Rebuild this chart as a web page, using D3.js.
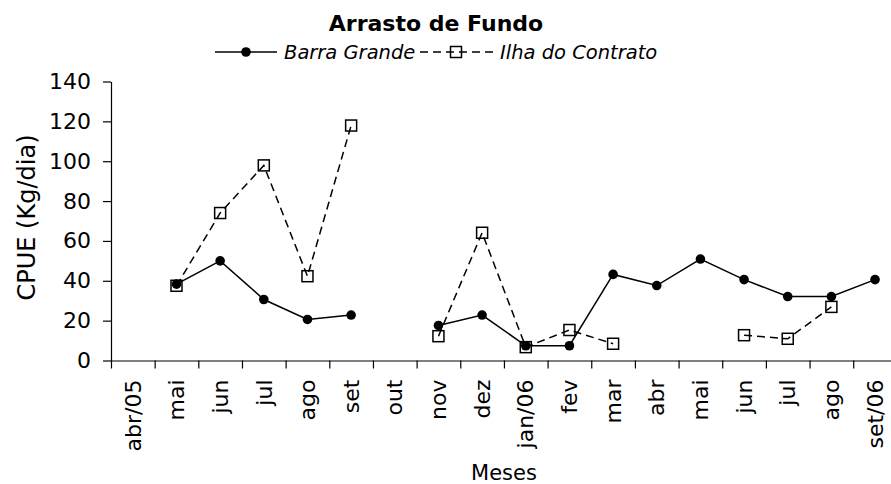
<!DOCTYPE html>
<html>
<head>
<meta charset="utf-8">
<script src="https://cdn.jsdelivr.net/npm/d3@7"></script>
<style>
  html, body { margin: 0; padding: 0; background: #fff; }
  svg { display: block; font-family: "DejaVu Sans", Verdana, sans-serif; }
</style>
</head>
<body>
<svg id="chart" width="891" height="484"></svg>
<script>
// Monthly CPUE for bottom trawl, two landing sites (null = no sampling)
const months = ["abr/05", "mai", "jun", "jul", "ago", "set", "out", "nov", "dez",
                "jan/06", "fev", "mar", "abr", "mai ", "jun ", "jul ", "ago ", "set/06"];
const barraGrande = [null, 38.3, 50.0, 30.6, 20.6, 22.8, null, 17.6, 22.8,
                     7.4, 7.4, 43.2, 37.6, 50.9, 40.6, 32.1, 32.1, 40.6];
const ilhaContrato = [null, 37.5, 74.0, 97.9, 42.3, 117.9, null, 12.2, 64.1,
                      6.7, 15.3, 8.4, null, null, 12.7, 10.9, 26.9, null];
const yTicks = [0, 20, 40, 60, 80, 100, 120, 140];

const svg = d3.select("#chart");
const plotLeft = 111, plotTop = 81.5, plotBottom = 360.5, band = 43.66;
const plotRight = plotLeft + band * months.length;

const x = d3.scaleBand().domain(months).range([plotLeft, plotRight]).padding(0);
const xEdge = d3.scaleLinear().domain([0, months.length]).range([plotLeft, plotRight]);
const y = d3.scaleLinear().domain([0, 140]).range([plotBottom, plotTop]);

// Y axis
const yAxis = svg.append("g")
  .attr("transform", `translate(${plotLeft},0)`)
  .call(d3.axisLeft(y).tickValues(yTicks).tickSize(8).tickPadding(12).tickSizeOuter(0));
yAxis.selectAll("text").attr("font-size", 22).attr("fill", "#000")
  .attr("font-family", "DejaVu Sans, Verdana, sans-serif");

// X axis: ticks on category boundaries
svg.append("g")
  .attr("transform", `translate(0,${plotBottom})`)
  .call(d3.axisBottom(xEdge).tickValues(d3.range(0, months.length + 1))
    .tickFormat("").tickSize(8).tickSizeOuter(0));

// X axis labels at category centres, rotated
const xLab = svg.append("g")
  .attr("transform", `translate(0,${plotBottom})`)
  .call(d3.axisBottom(x).tickSize(0).tickFormat(d => d.trim()));
xLab.select(".domain").remove();
xLab.selectAll("text")
  .attr("font-size", 22).attr("fill", "#000")
  .attr("font-family", "DejaVu Sans, Verdana, sans-serif")
  .attr("transform", "rotate(-90)")
  .attr("text-anchor", "end")
  .attr("x", -19).attr("y", 0).attr("dy", "0.35em");

svg.selectAll(".domain, .tick line").attr("stroke", "#000").attr("stroke-width", 1.2);

// Axis titles
svg.append("text")
  .attr("x", (plotLeft + plotRight) / 2).attr("y", 480)
  .attr("text-anchor", "middle").attr("font-size", 21)
  .text("Meses");
svg.append("text")
  .attr("transform", "translate(35,217.5) rotate(-90)")
  .attr("text-anchor", "middle").attr("font-size", 24)
  .text("CPUE (Kg/dia)");

// Title
svg.append("text")
  .attr("x", 436).attr("y", 31)
  .attr("text-anchor", "middle").attr("font-size", 22).attr("font-weight", "bold")
  .text("Arrasto de Fundo");

// Series lines
const cx = (d, i) => x(months[i]) + x.bandwidth() / 2;
const line = d3.line()
  .defined(d => d != null)
  .x(cx)
  .y(d => y(d));

svg.append("path").datum(ilhaContrato)
  .attr("d", line).attr("fill", "none")
  .attr("stroke", "#000").attr("stroke-width", 1.5).attr("stroke-dasharray", "8,5");
svg.append("path").datum(barraGrande)
  .attr("d", line).attr("fill", "none")
  .attr("stroke", "#000").attr("stroke-width", 1.5);

// Markers
const sq = 11;
svg.append("g").selectAll("rect")
  .data(ilhaContrato.map((v, i) => ({ v, i })).filter(d => d.v != null))
  .join("rect")
  .attr("x", d => cx(null, d.i) - sq / 2)
  .attr("y", d => y(d.v) - sq / 2)
  .attr("width", sq).attr("height", sq)
  .attr("fill", "none").attr("stroke", "#000").attr("stroke-width", 1.5);
svg.append("g").selectAll("circle")
  .data(barraGrande.map((v, i) => ({ v, i })).filter(d => d.v != null))
  .join("circle")
  .attr("cx", d => cx(null, d.i))
  .attr("cy", d => y(d.v))
  .attr("r", 4.8).attr("fill", "#000");

// Legend
const ly = 52;
const lg = svg.append("g");
lg.append("line").attr("x1", 215).attr("x2", 277).attr("y1", ly).attr("y2", ly)
  .attr("stroke", "#000").attr("stroke-width", 1.5);
lg.append("circle").attr("cx", 246).attr("cy", ly).attr("r", 4.8).attr("fill", "#000");
lg.append("text").attr("x", 284).attr("y", ly + 7).attr("font-size", 19.5)
  .attr("font-style", "italic").text("Barra Grande");
lg.append("line").attr("x1", 420).attr("x2", 493).attr("y1", ly).attr("y2", ly)
  .attr("stroke", "#000").attr("stroke-width", 1.5).attr("stroke-dasharray", "8,5");
lg.append("rect").attr("x", 456 - sq / 2).attr("y", ly - sq / 2)
  .attr("width", sq).attr("height", sq)
  .attr("fill", "none").attr("stroke", "#000").attr("stroke-width", 1.5);
lg.append("text").attr("x", 500).attr("y", ly + 7).attr("font-size", 19.5)
  .attr("font-style", "italic").text("Ilha do Contrato");
</script>
</body>
</html>
